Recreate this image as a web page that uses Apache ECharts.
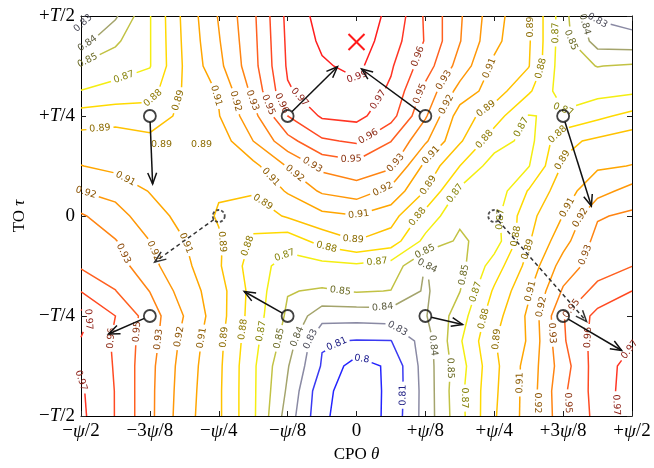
<!DOCTYPE html>
<html><head><meta charset="utf-8">
<script src="https://cdn.jsdelivr.net/npm/echarts@6/dist/echarts.min.js"></script>
<style>html,body{margin:0;padding:0;background:#fff}#c{width:654px;height:468px}</style>
</head><body><div id="c"></div>
<script>
// ---------- data ----------
// axis ticks (theta in units of psi/8, tau in units of T/8)
const thetaTicks = [-4, -3, -2, -1, 0, 1, 2, 3, 4];
const thetaTickLabels = ['−ψ/2', '−3ψ/8', '−ψ/4', '−ψ/8', '0', '+ψ/8', '+ψ/4', '+3ψ/8', '+ψ/2'];
const tauTicks = [-4, -2, 0, 2, 4];
const tauTickLabels = ['−T/2', '−T/4', '0', '+T/4', '+T/2'];

// sampling grid of the fidelity field
const gridTheta = [-4, -3.5, -3, -2.5, -2, -1.5, -1, -0.5, 0, 0.5, 1, 1.5, 2, 2.5, 3, 3.5, 4];
const gridTau = [4, 3.5, 3, 2.5, 2, 1.5, 1, 0.5, 0, -0.5, -1, -1.5, -2, -2.5, -3, -3.5, -4];
// fidelity values, rows from tau=+T/2 (top) to tau=-T/2 (bottom)
const fidelity = [
  [0.822, 0.838, 0.866, 0.897, 0.921, 0.944, 0.977, 0.992, 0.991, 0.985, 0.958, 0.935, 0.912, 0.895, 0.859, 0.825, 0.820],
  [0.835, 0.851, 0.866, 0.896, 0.919, 0.943, 0.976, 0.989, 0.994, 0.980, 0.959, 0.934, 0.910, 0.895, 0.859, 0.834, 0.832],
  [0.855, 0.861, 0.866, 0.895, 0.9164, 0.942, 0.975, 0.985, 0.990, 0.975, 0.953, 0.928, 0.904, 0.894, 0.858, 0.853, 0.855],
  [0.867, 0.871, 0.875, 0.895, 0.908, 0.937, 0.972, 0.980, 0.983, 0.971, 0.943, 0.915, 0.900, 0.882, 0.860, 0.862, 0.864],
  [0.886, 0.888, 0.886, 0.897, 0.906, 0.929, 0.960, 0.975, 0.977, 0.965, 0.935, 0.900, 0.886, 0.866, 0.869, 0.877, 0.884],
  [0.899, 0.900, 0.897, 0.896, 0.899, 0.920, 0.942, 0.958, 0.962, 0.947, 0.922, 0.895, 0.873, 0.862, 0.890, 0.896, 0.901],
  [0.907, 0.903, 0.898, 0.899, 0.900, 0.903, 0.921, 0.937, 0.942, 0.936, 0.903, 0.880, 0.860, 0.866, 0.895, 0.905, 0.907],
  [0.920, 0.916, 0.906, 0.900, 0.8945, 0.895, 0.908, 0.922, 0.927, 0.916, 0.893, 0.864, 0.858, 0.881, 0.901, 0.915, 0.925],
  [0.935, 0.925, 0.913, 0.902, 0.892, 0.885, 0.895, 0.903, 0.906, 0.899, 0.875, 0.856, 0.862, 0.889, 0.907, 0.932, 0.936],
  [0.940, 0.934, 0.920, 0.907, 0.895, 0.878, 0.872, 0.885, 0.893, 0.887, 0.863, 0.851, 0.860, 0.892, 0.915, 0.938, 0.941],
  [0.945, 0.940, 0.924, 0.910, 0.895, 0.873, 0.861, 0.862, 0.864, 0.861, 0.8395, 0.849, 0.873, 0.898, 0.926, 0.940, 0.9465],
  [0.9595, 0.947, 0.933, 0.914, 0.899, 0.875, 0.854, 0.852, 0.8545, 0.853, 0.838, 0.853, 0.882, 0.905, 0.935, 0.951, 0.960],
  [0.978, 0.960, 0.940, 0.9195, 0.899, 0.874, 0.851, 0.832, 0.832, 0.833, 0.839, 0.860, 0.888, 0.909, 0.946, 0.964, 0.967],
  [0.9725, 0.958, 0.939, 0.916, 0.897, 0.871, 0.847, 0.8145, 0.8125, 0.813, 0.833, 0.865, 0.8925, 0.908, 0.945, 0.966, 0.972],
  [0.971, 0.959, 0.937, 0.914, 0.896, 0.869, 0.841, 0.812, 0.793, 0.803, 0.833, 0.861, 0.890, 0.912, 0.9405, 0.967, 0.978],
  [0.975, 0.9595, 0.9366, 0.913, 0.8955, 0.869, 0.838, 0.804, 0.792, 0.803, 0.832, 0.863, 0.891, 0.912, 0.944, 0.966, 0.980],
  [0.976, 0.9595, 0.9366, 0.912, 0.8955, 0.869, 0.834, 0.803, 0.790, 0.804, 0.832, 0.862, 0.892, 0.912, 0.943, 0.965, 0.980]
];

// contour levels and their printed labels
const levels = [0.8, 0.81333, 0.82667, 0.84, 0.85333, 0.86667, 0.88, 0.89333, 0.90667, 0.92, 0.93333, 0.94667, 0.96, 0.97333, 0.98667];
const levelLabels = ['0.8', '0.81', '0.83', '0.84', '0.85', '0.87', '0.88', '0.89', '0.91', '0.92', '0.93', '0.95', '0.96', '0.97', '0.99'];

// contour label anchors: [level index, theta, tau]
const labelAnchors = [
  [2,-3.95,3.82],[3,-3.91,3.46],[4,-3.91,3.12],[5,-3.34,2.63],[6,-2.89,2.29],[7,-2.54,2.29],[7,-3.73,1.83],
  [8,-2.09,2.39],[9,-1.77,2.29],[10,-1.55,2.29],[11,-1.16,2.29],[12,-1.00,2.31],[13,-0.80,2.41],[14,0,2.79],
  [13,0.33,2.31],[12,0.19,1.55],[11,-0.07,1.19],[12,0.91,3.18],[11,0.91,2.45],[10,1.28,2.71],[9,1.25,2.27],
  [8,1.83,3.02],[8,1.03,1.29],[7,2.56,3.78],[6,2.61,2.99],[5,2.83,3.66],[4,3.12,3.52],[3,3.28,3.82],[2,3.46,3.72],
  [7,1.89,2.13],[6,1.81,1.59],[5,2.37,1.79],[5,2.85,1.87],[6,2.95,1.59],[7,2.95,1.13],
  [8,-1.26,0.76],[9,-0.97,0.72],[10,-0.73,0.80],[10,0.58,1.05],[9,0.38,0.54],[8,0.04,0.0],
  [7,1.06,0.60],[6,0.87,0.0],[5,1.38,0.50],[7,-1.36,0.28],[7,-0.06,-0.52],[6,-0.44,-0.66],[5,0.29,-0.80],
  [5,-1.15,-0.60],[6,-1.58,-0.60],[7,-1.87,-0.52],[4,0.99,-0.70],[3,1.32,-0.86],[4,1.60,-1.19],
  [4,-0.25,-1.61],[3,0.38,-1.75],[2,0.65,-2.15],[1,-0.29,-2.55],[0,0.09,-2.81],[1,0.58,-3.58],
  [2,-0.68,-2.45],[3,-0.87,-2.41],[4,-1.12,-2.45],[5,-1.36,-2.31],[6,-1.55,-2.29],[7,-1.77,-2.45],
  [8,-2.21,-2.45],[9,-2.45,-2.45],[10,-2.74,-2.49],[11,-3.22,-2.31],[12,-3.54,-2.45],[13,-3.92,-2.05],[13,-3.95,-3.18],
  [10,-3.34,-0.72],[9,-2.98,-0.72],[8,-2.53,-0.56],[8,-3.34,0.78],[9,-3.88,0.68],
  [5,2.19,-0.06],[6,2.25,-0.40],[7,2.47,-0.66],[8,3.05,0.18],[9,3.19,0.0],[10,3.21,-0.72],
  [3,1.13,-2.59],[4,1.32,-3.04],[5,1.71,-1.51],[6,1.83,-2.05],[7,2.00,-2.45],[8,2.54,-1.51],[9,2.61,-1.79],
  [10,2.73,-2.35],[11,3.09,-1.81],[12,3.19,-2.41],[13,3.85,-2.55],[5,1.60,-3.64],[8,2.41,-3.34],[9,2.61,-3.74],
  [11,3.06,-3.74],[13,3.73,-3.78]
];
// labels of tiny closed contours, drawn as they are
const freeLabels = [[7,-2.83,1.43],[7,-2.25,1.43]];

// markers
const solidCircles = [[-3,2],[-1,2],[1,2],[3,2],[-3,-2],[-1,-2],[1,-2],[3,-2]];
const dashedCircles = [[-2,0],[2,0]];
const optimum = [[0,3.48]];
// arrows: [theta0, tau0, theta1, tau1, dashed]
const arrows = [
  [-3,2,-2.96,0.64,0],[-1,2,-0.276,2.985,0],[1,2,0.073,2.94,0],[3,2,3.41,0.2,0],
  [-3,-2,-3.6,-2.36,0],[-1,-2,-1.63,-1.51,0],[1,-2,1.54,-2.17,0],[3,-2,3.85,-2.69,0],
  [-2,0,-2.93,-0.92,1],[2,0,3.34,-2.11,1]
];

// ---------- styles ----------
const lineColors = ['#2424ff','#3a3af2','#8a8aa4','#a4a46c','#c2c244','#f4ee12','#ffda00','#ffc200','#ffa600','#ff9808','#ff8412','#ff6020','#ff4a22','#ff3524','#ff1e1e'];
function darken(hex, f) {
  const n = parseInt(hex.slice(1), 16);
  const r = Math.round(((n >> 16) & 255) * f), g = Math.round(((n >> 8) & 255) * f), b = Math.round((n & 255) * f);
  return 'rgb(' + r + ',' + g + ',' + b + ')';
}
const labelColors = lineColors.map(c => darken(c, 0.55));
const LABEL_FONT = '9.5px "DejaVu Sans", sans-serif';
const serif = '"Liberation Serif", "DejaVu Serif", serif';

// ---------- chart ----------
const chart = echarts.init(document.getElementById('c'), null, {renderer: 'canvas', width: 654, height: 468});

function axisCommon(extra) {
  return Object.assign({
    type: 'value', min: -4, max: 4,
    axisLine: {show: true, onZero: false, lineStyle: {color: '#000', width: 1}},
    axisTick: {show: true, inside: true, length: 5, lineStyle: {color: '#222', width: 1}},
    splitLine: {show: false}
  }, extra);
}
const tickRich = {i: {fontFamily: serif, fontStyle: 'italic', fontSize: 19, color: '#000'}};
const nameRich = {i: {fontFamily: serif, fontStyle: 'italic', fontSize: 17, color: '#000'}};

const baseOption = {
  animation: false,
  backgroundColor: '#fff',
  grid: {left: 81, right: 22, top: 16, bottom: 50, containLabel: false},
  xAxis: [
    axisCommon({
      position: 'bottom', interval: 1,
      axisLabel: {
        margin: 6, fontFamily: serif, fontSize: 19, color: '#000', rich: tickRich,
        formatter: v => { const k = thetaTicks.indexOf(Math.round(v)); return k < 0 ? '' : thetaTickLabels[k].replace('ψ', '{i|ψ}'); }
      },
      name: 'CPO {i|θ}', nameLocation: 'middle', nameGap: 30,
      nameTextStyle: {fontFamily: serif, fontSize: 17, color: '#000', rich: nameRich}
    }),
    axisCommon({position: 'top', interval: 1, axisLabel: {show: false}})
  ],
  yAxis: [
    axisCommon({
      position: 'left', interval: 2,
      axisLabel: {
        margin: 6, fontFamily: serif, fontSize: 19, color: '#000', rich: tickRich,
        formatter: v => { const k = tauTicks.indexOf(Math.round(v)); return k < 0 ? '' : tauTickLabels[k].replace('T', '{i|T}'); }
      },
      name: 'TO {i|τ}', nameLocation: 'middle', nameGap: 50, nameRotate: 90,
      nameTextStyle: {fontFamily: serif, fontSize: 17, color: '#000', rich: nameRich}
    }),
    axisCommon({position: 'right', interval: 2, axisLabel: {show: false}})
  ]
};
chart.setOption(baseOption);

function toPx(p) {
  let r = null;
  try { r = chart.convertToPixel({gridIndex: 0}, p); } catch (e) { r = null; }
  if (!r || isNaN(r[0])) r = [81 + (p[0] + 4) / 8 * 551, 16 + (4 - p[1]) / 8 * 402];
  return r;
}

// ---------- marching squares ----------
function traceContours(Z, xs, ys, level) {
  const ny = Z.length, nx = xs.length;
  const pts = new Map(), segs = [];
  const hi = v => v > level;
  function ep(key, ax, ay, bx, by, va, vb) {
    if (!pts.has(key)) { const t = (level - va) / (vb - va); pts.set(key, [ax + t * (bx - ax), ay + t * (by - ay)]); }
    return key;
  }
  for (let j = 0; j < ny - 1; j++) for (let i = 0; i < nx - 1; i++) {
    const tl = Z[j][i], tr = Z[j][i + 1], br = Z[j + 1][i + 1], bl = Z[j + 1][i];
    const e = {};
    if (hi(tl) !== hi(tr)) e.top = ep('h' + i + '_' + j, xs[i], ys[j], xs[i + 1], ys[j], tl, tr);
    if (hi(tr) !== hi(br)) e.right = ep('v' + (i + 1) + '_' + j, xs[i + 1], ys[j], xs[i + 1], ys[j + 1], tr, br);
    if (hi(bl) !== hi(br)) e.bottom = ep('h' + i + '_' + (j + 1), xs[i], ys[j + 1], xs[i + 1], ys[j + 1], bl, br);
    if (hi(tl) !== hi(bl)) e.left = ep('v' + i + '_' + j, xs[i], ys[j], xs[i], ys[j + 1], tl, bl);
    const ks = Object.keys(e);
    if (ks.length === 2) segs.push([e[ks[0]], e[ks[1]]]);
    else if (ks.length === 4) {
      const cHigh = hi((tl + tr + br + bl) / 4);
      if (hi(tl) === cHigh) { segs.push([e.top, e.right]); segs.push([e.bottom, e.left]); }
      else { segs.push([e.left, e.top]); segs.push([e.right, e.bottom]); }
    }
  }
  const adj = new Map();
  segs.forEach((s, idx) => s.forEach(k => { if (!adj.has(k)) adj.set(k, []); adj.get(k).push(idx); }));
  const used = new Array(segs.length).fill(false);
  function walk(startIdx, startKey) {
    const keys = [startKey];
    let idx = startIdx, cur = startKey;
    while (idx !== -1 && !used[idx]) {
      used[idx] = true;
      const s = segs[idx];
      const nxt = s[0] === cur ? s[1] : s[0];
      keys.push(nxt); cur = nxt;
      const cand = adj.get(cur).filter(q => !used[q]);
      idx = cand.length ? cand[0] : -1;
    }
    return keys;
  }
  const out = [];
  for (const [k, list] of adj) if (list.length === 1 && !used[list[0]]) out.push({keys: walk(list[0], k), closed: false});
  for (let idx = 0; idx < segs.length; idx++) if (!used[idx]) out.push({keys: walk(idx, segs[idx][0]), closed: true});
  return out.map(p => ({d: p.keys.map(k => pts.get(k)), closed: p.closed}));
}

let pieces = [];
levels.forEach((lv, k) => {
  traceContours(fidelity, gridTheta, gridTau, lv).forEach(c => {
    pieces.push({k, d: c.d, p: c.d.map(toPx), closed: c.closed});
  });
});

// ---------- inline contour labels ----------
const mctx = document.createElement('canvas').getContext('2d');
mctx.font = LABEL_FONT;
const labelData = [];
const lerp = (a, b, u) => [a[0] + (b[0] - a[0]) * u, a[1] + (b[1] - a[1]) * u];

labelAnchors.forEach(([k, ax, ay]) => {
  const P = toPx([ax, ay]);
  let best = null;
  pieces.forEach((pc, pi) => {
    if (pc.k !== k) return;
    for (let s = 0; s < pc.p.length - 1; s++) {
      const A = pc.p[s], B = pc.p[s + 1];
      const vx = B[0] - A[0], vy = B[1] - A[1], L2 = vx * vx + vy * vy;
      let t = L2 > 0 ? ((P[0] - A[0]) * vx + (P[1] - A[1]) * vy) / L2 : 0;
      t = Math.max(0, Math.min(1, t));
      const d = Math.hypot(P[0] - (A[0] + t * vx), P[1] - (A[1] + t * vy));
      if (!best || d < best.d) best = {d, pi, s, t};
    }
  });
  if (!best || best.d > 22) { labelData.push([ax, ay, 0, k]); return; }
  const pc = pieces[best.pi];
  const cum = [0];
  for (let i = 1; i < pc.p.length; i++) cum.push(cum[i - 1] + Math.hypot(pc.p[i][0] - pc.p[i - 1][0], pc.p[i][1] - pc.p[i - 1][1]));
  const total = cum[cum.length - 1];
  const s0 = cum[best.s] + best.t * (cum[best.s + 1] - cum[best.s]);
  const h = mctx.measureText(levelLabels[k]).width / 2 + 3;
  function at(s) {
    s = Math.max(0, Math.min(total, s));
    let i = 0;
    while (i < cum.length - 2 && cum[i + 1] < s) i++;
    const seg = cum[i + 1] - cum[i];
    const u = seg > 0 ? (s - cum[i]) / seg : 0;
    return {p: lerp(pc.p[i], pc.p[i + 1], u), d: lerp(pc.d[i], pc.d[i + 1], u)};
  }
  const a = at(s0 - h), b = at(s0 + h), c = at(s0);
  let ang = Math.atan2(-(b.p[1] - a.p[1]), b.p[0] - a.p[0]) * 180 / Math.PI;
  if (ang > 90) ang -= 180;
  if (ang <= -90) ang += 180;
  labelData.push([c.d[0], c.d[1], ang, k]);
  const before = {p: [], d: []}, after = {p: [], d: []};
  for (let i = 0; i < pc.p.length; i++) if (cum[i] < s0 - h) { before.p.push(pc.p[i]); before.d.push(pc.d[i]); }
  if (s0 - h > 0) { before.p.push(a.p); before.d.push(a.d); }
  if (s0 + h < total) { after.p.push(b.p); after.d.push(b.d); }
  for (let i = 0; i < pc.p.length; i++) if (cum[i] > s0 + h) { after.p.push(pc.p[i]); after.d.push(pc.d[i]); }
  pieces.splice(best.pi, 1);
  if (pc.closed) {
    const m = {p: after.p.concat(before.p.slice(1)), d: after.d.concat(before.d.slice(1))};
    if (m.p.length >= 2) pieces.push({k, p: m.p, d: m.d, closed: false});
  } else {
    if (before.p.length >= 2) pieces.push({k, p: before.p, d: before.d, closed: false});
    if (after.p.length >= 2) pieces.push({k, p: after.p, d: after.d, closed: false});
  }
});
freeLabels.forEach(([k, x, y]) => labelData.push([x, y, 0, k]));

// ---------- series ----------
const series = [
  {
    type: 'lines', coordinateSystem: 'cartesian2d', polyline: true, silent: true, z: 2,
    lineStyle: {width: 1.5, opacity: 1},
    data: pieces.map(pc => ({coords: pc.d, lineStyle: {color: lineColors[pc.k], width: 1.5, opacity: 1}}))
  },
  {
    type: 'custom', silent: true, z: 3, data: labelData,
    renderItem: (params, api) => {
      const p = api.coord([api.value(0), api.value(1)]);
      const k = api.value(3);
      return {
        type: 'text', x: p[0], y: p[1], rotation: api.value(2) * Math.PI / 180,
        style: {text: levelLabels[k], fill: labelColors[k], font: LABEL_FONT, align: 'center', verticalAlign: 'middle'}
      };
    }
  },
  {
    type: 'custom', silent: true, z: 5, data: arrows,
    renderItem: (params, api) => {
      const p1 = api.coord([api.value(0), api.value(1)]);
      const p2 = api.coord([api.value(2), api.value(3)]);
      const dashed = api.value(4) === 1;
      const dx = p2[0] - p1[0], dy = p2[1] - p1[1], L = Math.hypot(dx, dy);
      const s = [p1[0] + dx / L * 6, p1[1] + dy / L * 6];
      const ang = Math.atan2(dy, dx), hl = 12, ha = 0.38;
      const h1 = [p2[0] - hl * Math.cos(ang - ha), p2[1] - hl * Math.sin(ang - ha)];
      const h2 = [p2[0] - hl * Math.cos(ang + ha), p2[1] - hl * Math.sin(ang + ha)];
      const col = dashed ? '#333' : '#111';
      return {type: 'group', children: [
        {type: 'line', shape: {x1: s[0], y1: s[1], x2: p2[0], y2: p2[1]}, style: {stroke: col, lineWidth: 1.5, lineDash: dashed ? [4, 3] : null}},
        {type: 'polyline', shape: {points: [h1, p2, h2]}, style: {stroke: col, lineWidth: 1.5, fill: null}}
      ]};
    }
  },
  {
    type: 'scatter', silent: true, z: 6, data: solidCircles, symbol: 'circle', symbolSize: 12,
    itemStyle: {color: 'rgba(255,255,255,0)', borderColor: '#111', borderWidth: 1.8}
  },
  {
    type: 'scatter', silent: true, z: 6, data: dashedCircles, symbol: 'circle', symbolSize: 12,
    itemStyle: {color: 'rgba(255,255,255,0)', borderColor: '#222', borderWidth: 1.8, borderType: [3, 2]}
  },
  {
    type: 'custom', silent: true, z: 6, data: optimum,
    renderItem: (params, api) => {
      const p = api.coord([api.value(0), api.value(1)]), r = 8;
      return {type: 'group', children: [
        {type: 'line', shape: {x1: p[0] - r, y1: p[1] - r, x2: p[0] + r, y2: p[1] + r}, style: {stroke: '#ff1a1a', lineWidth: 2}},
        {type: 'line', shape: {x1: p[0] - r, y1: p[1] + r, x2: p[0] + r, y2: p[1] - r}, style: {stroke: '#ff1a1a', lineWidth: 2}}
      ]};
    }
  }
];
chart.setOption({series});
</script></body></html>
